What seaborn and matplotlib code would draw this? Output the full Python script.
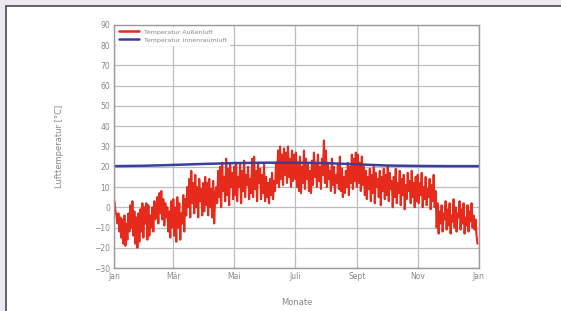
import numpy as np
import pandas as pd
import matplotlib
matplotlib.use("Agg")
import matplotlib.pyplot as plt
import seaborn as sns
from matplotlib.patches import Rectangle

# outdoor air temperature, one value per day (alternating highs / lows)
aussen = [
    # Jan
    3, -2, -4, -8, -3, -12, -5, -15, -6, -18, -4, -19, -8, -16, -3, -12, 1, -10, 3, -14,
    -2, -18, -5, -20, -3, -17, -1, -12, 2, -15, 0,
    # Feb
    -8, 2, -16, 1, -14, -4, -10, 0, -12, 3, -6, -2, 5, -8, 7, -3, 8, -6, 4, -9,
    2, -5, 0, -12, -2, -15, 3, -10,
    # Mar
    4, -14, 0, -17, 5, -10, 2, -16, -3, -8, 6, -12, 4, -4, 10, 0, 14, -5, 18, 2,
    12, -3, 16, 0, 10, -5, 14, 3, 9, -4, 12,
    # Apr
    -2, 15, 1, 12, -4, 14, 0, 9, -5, 13, -8, 6, 10, 2, 18, 5, 20, 0, 22, 8,
    15, 3, 24, 6, 19, 1, 21, 10, 17, 4,
    # Mai
    20, 6, 22, 3, 15, 10, 21, 2, 18, 8, 23, 5, 16, 11, 20, 4, 14, 7, 24, 5,
    25, 9, 18, 3, 22, 12, 19, 4, 16, 7, 21,
    # Jun
    3, 15, 5, 12, 2, 14, 6, 17, 4, 13, 8, 22, 12, 28, 10, 30, 14, 26, 11, 29,
    16, 27, 12, 30, 15, 24, 10, 28, 13, 26,
    # Juli
    14, 27, 10, 22, 8, 25, 7, 20, 12, 28, 9, 24, 14, 21, 8, 18, 7, 23, 11, 27,
    15, 22, 10, 26, 13, 20, 9, 24, 16, 33, 12,
    # Aug
    28, 10, 22, 14, 18, 8, 24, 11, 20, 7, 16, 12, 21, 9, 25, 8, 19, 5, 15, 7,
    18, 10, 22, 6, 20, 12, 26, 9, 24, 13, 27,
    # Sept
    10, 26, 12, 22, 8, 25, 11, 20, 6, 18, 4, 15, 9, 19, 3, 16, 7, 20, 2, 17,
    10, 14, 5, 18, 1, 15, 8, 19, 4, 16,
    # Okt
    6, 20, 3, 17, 9, 13, 0, 15, 5, 19, 2, 12, 7, 18, 1, 14, 6, 16, -1, 11,
    4, 17, 8, 13, 2, 18, 5, 12, 0, 15, 3,
    # Nov
    16, 2, 12, 6, 17, 0, 10, 4, 15, 1, 9, 5, 14, -1, 11, 3, 16, 0, 8, -10,
    2, -13, -2, -8, 1, -12, -3, -6, 3, -11,
    # Dez
    -1, -9, 2, -13, -4, -7, 4, -10, 0, -12, -3, -5, 3, -11, -1, -8, 2, -13, -5, -9,
    1, -12, -2, -7, 2, -10, -4, -11, -6, -14, -18,
]
tage = list(range(len(aussen)))

# indoor air temperature at the start of each month
innen_tage = [0, 31, 59, 90, 120, 151, 181, 212, 243, 273, 304, 334, 365]
innen = [20.3, 20.5, 20.9, 21.4, 21.8, 22.0, 22.0, 21.8, 21.2, 20.6, 20.4, 20.3, 20.3]

tick_tage = [0, 59, 120, 181, 243, 304, 365]
tick_labels = ["Jan", "Mär", "Mai", "Juli", "Sept", "Nov", "Jan"]

df_aussen = pd.DataFrame({"tag": tage, "temp": aussen})
df_innen = pd.DataFrame({"tag": innen_tage, "temp": innen})

sns.set_style("whitegrid")
plt.rcParams['font.family'] = ['DejaVu Sans']

fig = plt.figure(figsize=(5.61, 3.11), dpi=100)
fig.patch.set_facecolor("#ece8f0")
frame = Rectangle((6 / 561, -0.1), 1.2, 1.1 - 6 / 311, transform=fig.transFigure,
                  facecolor="white", edgecolor="#4e4658", linewidth=1.2, zorder=-10)
fig.patches.append(frame)

ax = fig.add_axes([0.204, 0.138, 0.649, 0.782])
ax.set_facecolor("white")

sns.lineplot(data=df_aussen, x="tag", y="temp", ax=ax, color="#e62a1c", linewidth=1.5,
             label="Temperatur Außenluft")
sns.lineplot(data=df_innen, x="tag", y="temp", ax=ax, color="#3a3f9c", linewidth=1.8,
             label="Temperatur Innenraumluft")

ax.set_xlim(0, 365)
ax.set_ylim(-30, 90)
ax.set_yticks(range(-30, 91, 10))
ax.set_xticks(tick_tage)
ax.set_xticklabels(tick_labels)
ax.tick_params(axis="both", labelsize=5.5, labelcolor="#888888", length=0, pad=3)
ax.grid(True, color="#bdbdbd", linewidth=0.9)
for s in ax.spines.values():
    s.set_visible(True)
    s.set_color("#9a9a9a")
    s.set_linewidth(1.0)

ax.set_xlabel("Monate", fontsize=6, color="#888888", labelpad=12)
ax.set_ylabel("Lufttemperatur [°C]", fontsize=6, color="#888888", labelpad=22)

leg = ax.legend(loc="upper left", fontsize=4.5, frameon=True, framealpha=1,
                edgecolor="white", facecolor="white", handlelength=3.2,
                borderaxespad=0.3, labelspacing=0.4)
for t in leg.get_texts():
    t.set_color("#888888")
for line in leg.get_lines():
    line.set_linewidth(1.8)

fig.savefig("out.png", dpi=100, facecolor=fig.get_facecolor())
